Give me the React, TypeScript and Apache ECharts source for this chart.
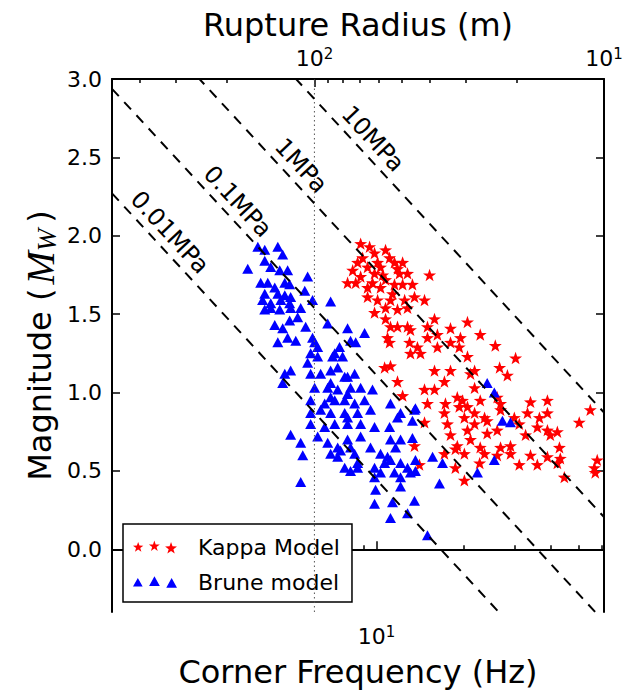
import React, { useEffect, useRef } from 'react';
import * as echarts from 'echarts';

// ---------- data ----------
const stressLevelsMPa = [0.01, 0.1, 1, 10];
const stressLabels = ['0.01MPa', '0.1MPa', '1MPa', '10MPa'];
const stressLabelFc = [1.76, 3.02, 5.0, 8.85];
const radiusConst = 610; // rupture radius (m) = radiusConst / fc
const fcMin = 1.22;
const fcMax = 61;
const mwMin = -0.4;
const mwMax = 3.0;
const mwTicks = [0, 0.5, 1, 1.5, 2, 2.5, 3];
const fcMajorTicks = [10];
const fcMinorTicks = [2, 3, 4, 5, 6, 7, 8, 9, 20, 30, 40, 50, 60];
const radiusMajorTicks = [100, 10];
const radiusMinorTicks = [500, 400, 300, 200, 90, 80, 70, 60, 50, 40, 30, 20];
const referenceRadius = 100;

const kappaModel: number[][] = [
  [8.81, 1.95], [9.46, 1.93], [10.74, 1.91], [8.6, 1.83], [9.84, 1.89], [11.53, 1.83], [12.3, 1.83],
  [9.31, 1.8], [10.32, 1.8], [11.81, 1.79], [7.94, 1.7], [8.81, 1.74], [9.84, 1.76], [10.74, 1.72],
  [12.0, 1.76], [12.79, 1.76], [15.24, 1.75], [8.47, 1.7], [9.31, 1.67], [10.32, 1.67], [11.53, 1.69],
  [13.3, 1.69], [9.31, 1.61], [10.08, 1.59], [11.17, 1.59], [12.5, 1.59], [13.52, 1.61], [14.64, 1.59],
  [9.84, 1.51], [10.74, 1.54], [11.81, 1.53], [12.79, 1.54], [10.74, 1.47], [11.17, 1.42], [11.81, 1.42],
  [12.79, 1.42], [15.85, 1.47], [10.91, 1.35], [11.09, 1.32], [13.09, 1.4], [14.99, 1.42], [18.0, 1.41],
  [20.6, 1.45], [13.0, 1.32], [13.84, 1.29], [14.99, 1.35], [16.22, 1.37], [19.48, 1.35], [22.8, 1.37],
  [25.7, 1.3], [13.09, 1.25], [14.18, 1.25], [16.22, 1.29], [18.0, 1.32], [19.3, 1.29], [20.6, 1.23],
  [10.66, 1.16], [11.17, 1.17], [15.85, 1.14], [18.0, 1.14], [21.1, 1.12], [21.8, 1.14], [26.6, 1.16],
  [28.3, 1.11], [30.2, 1.22], [11.81, 1.07], [14.64, 1.02], [15.85, 1.02], [17.15, 1.07], [21.8, 1.03],
  [26.8, 0.93], [12.3, 0.98], [14.99, 0.93], [17.29, 0.93], [19.0, 0.97], [19.8, 0.95], [20.6, 0.91],
  [22.8, 0.95], [26.1, 0.97], [34.0, 0.94], [38.9, 0.95], [54.7, 0.89], [17.15, 0.87], [19.3, 0.91],
  [21.8, 0.87], [23.6, 0.84], [26.8, 0.89], [29.9, 0.84], [33.2, 0.87], [36.5, 0.84], [38.9, 0.87],
  [50.1, 0.81], [14.64, 0.81], [17.57, 0.8], [20.1, 0.84], [21.8, 0.8], [24.1, 0.82], [31.1, 0.8],
  [35.9, 0.78], [38.9, 0.76], [42.1, 0.75], [18.0, 0.73], [20.6, 0.76], [24.1, 0.74], [26.1, 0.76],
  [32.7, 0.73], [39.8, 0.73], [13.52, 0.66], [19.0, 0.66], [21.1, 0.7], [22.8, 0.65], [26.8, 0.65],
  [29.0, 0.66], [42.8, 0.65], [17.15, 0.61], [18.71, 0.64], [20.1, 0.61], [23.6, 0.61], [26.1, 0.6],
  [29.0, 0.61], [34.0, 0.6], [38.9, 0.59], [43.1, 0.58], [14.06, 0.54], [18.71, 0.52], [22.7, 0.55],
  [31.1, 0.54], [35.9, 0.54], [42.1, 0.55], [44.5, 0.46], [56.5, 0.52], [57.8, 0.57], [56.9, 0.49],
  [20.1, 0.44], [8.27, 1.78], [8.95, 1.86], [11.09, 1.86], [10.08, 1.83], [9.68, 1.7], [11.35, 1.63],
  [10.5, 1.75], [12.3, 1.69],
];

const bruneModel: number[][] = [
  [3.59, 1.79], [3.89, 1.93], [4.11, 1.91], [4.56, 1.93], [4.74, 1.88], [4.11, 1.84], [4.31, 1.8],
  [4.63, 1.78], [4.93, 1.78], [3.98, 1.7], [4.21, 1.7], [4.45, 1.67], [4.82, 1.7], [5.01, 1.69],
  [4.11, 1.63], [4.56, 1.63], [4.82, 1.62], [5.05, 1.61], [4.04, 1.59], [4.31, 1.57], [4.67, 1.59],
  [5.01, 1.57], [4.11, 1.53], [4.31, 1.54], [4.63, 1.53], [5.05, 1.54], [5.47, 1.54], [5.78, 1.74],
  [5.65, 1.65], [6.01, 1.59], [6.94, 1.58], [4.45, 1.43], [4.74, 1.41], [5.01, 1.46], [5.34, 1.48],
  [4.56, 1.32], [4.93, 1.35], [5.26, 1.33], [5.69, 1.42], [6.01, 1.35], [6.11, 1.32], [6.26, 1.29],
  [6.78, 1.44], [7.94, 1.41], [4.82, 1.12], [5.05, 1.14], [4.74, 1.06], [5.92, 1.25], [6.26, 1.23],
  [5.78, 1.19], [7.17, 1.25], [7.45, 1.29], [7.63, 1.23], [8.13, 1.33], [5.92, 1.12], [6.41, 1.12],
  [6.94, 1.14], [7.34, 1.16], [7.76, 1.1], [8.4, 1.12], [6.11, 1.03], [6.94, 1.06], [7.34, 1.02],
  [8.13, 1.03], [5.92, 0.95], [6.62, 0.93], [6.94, 0.97], [7.76, 0.95], [8.4, 0.93], [5.92, 0.87],
  [6.41, 0.89], [6.94, 0.87], [7.76, 0.87], [5.92, 0.8], [6.62, 0.78], [7.17, 0.8], [7.94, 0.8],
  [5.05, 0.73], [5.47, 0.68], [5.56, 0.6], [6.26, 0.72], [6.78, 0.68], [7.34, 0.65], [8.13, 0.65],
  [6.94, 0.61], [7.34, 0.59], [7.76, 0.52], [8.13, 0.5], [8.6, 0.52], [5.47, 0.43],
  [9.09, 1.38], [8.47, 1.32], [7.05, 1.23], [7.94, 1.1], [6.78, 1.03], [7.94, 0.99], [8.81, 1.03],
  [9.68, 1.02], [7.17, 0.95], [9.09, 0.95], [11.17, 0.93], [7.94, 0.84], [8.6, 0.87], [9.53, 0.89],
  [12.1, 0.87], [13.52, 0.89], [8.81, 0.8], [9.84, 0.78], [11.09, 0.78], [11.81, 0.84], [13.3, 0.82],
  [7.94, 0.7], [8.81, 0.72], [9.53, 0.65], [11.17, 0.7], [12.1, 0.7], [13.3, 0.71], [7.51, 0.63],
  [8.4, 0.61], [10.32, 0.61], [10.91, 0.59], [11.63, 0.65], [8.6, 0.55], [9.84, 0.52], [10.66, 0.55],
  [11.17, 0.57], [12.1, 0.55], [12.79, 0.52], [13.62, 0.57], [13.62, 0.5], [9.84, 0.46], [10.32, 0.49],
  [11.53, 0.49], [12.1, 0.46], [13.09, 0.49], [9.92, 0.38], [12.1, 0.4], [9.84, 0.29], [11.35, 0.3],
  [13.52, 0.31], [11.17, 0.2], [12.79, 0.23], [14.99, 0.09], [15.61, 0.59], [16.49, 0.42], [16.89, 0.55],
  [22.3, 0.49], [25.5, 0.57], [24.1, 1.06], [25.5, 1.0], [27.2, 0.82], [29.0, 0.81], [13.62, 0.9],
];

// ---------- helpers ----------
// Mw of a constant stress-drop line: M0 = 16/7 * stress * r^3, r = radiusConst / fc
function stressLineMw(stressMPa: number, fc: number): number {
  const r = radiusConst / fc;
  const m0 = (16 / 7) * stressMPa * 1e6 * Math.pow(r, 3);
  return (2 / 3) * (Math.log10(m0) - 9.05);
}

function starPath(cx: number, cy: number, R: number, r: number): string {
  let d = '';
  for (let i = 0; i < 10; i++) {
    const a = -Math.PI / 2 + (i * Math.PI) / 5;
    const rad = i % 2 === 0 ? R : r;
    d += (i === 0 ? 'M' : 'L') + (cx + rad * Math.cos(a)).toFixed(2) + ',' + (cy + rad * Math.sin(a)).toFixed(2) + ' ';
  }
  return d + 'Z';
}
function triPath(cx: number, cy: number, w: number, h: number): string {
  return `M${cx - w / 2},${cy + h / 2} L${cx},${cy - h / 2} L${cx + w / 2},${cy + h / 2} Z`;
}

const STAR_SYMBOL = 'path://' + starPath(0, 0, 10, 4);
const STAR_LEGEND = 'path://' + starPath(5.5, 6.5, 5.2, 2.1) + ' ' + starPath(21, 5.5, 5.5, 2.2) + ' ' + starPath(37, 7.5, 6, 2.4);
const TRI_LEGEND = 'path://' + triPath(5.5, 8, 9, 8) + ' ' + triPath(21, 7, 10, 9) + ' ' + triPath(37, 8.5, 10, 9);

const FONT = 'DejaVu Sans';

export default function App() {
  const ref = useRef<HTMLDivElement>(null);
  useEffect(() => {
    if (!ref.current) return;
    const chart = echarts.init(ref.current, null, { renderer: 'svg' });

    const supRich = {
      b: { fontSize: 22, fontFamily: FONT, color: '#000', lineHeight: 24 },
      s: { fontSize: 15, fontFamily: FONT, color: '#000', lineHeight: 12, verticalAlign: 'top' },
    };
    const expLabel = (v: number) => `{b|10}{s|${Math.round(Math.log10(v))}}`;

    const baseX = {
      type: 'log',
      logBase: 10,
      min: fcMin,
      max: fcMax,
      splitLine: { show: false },
      minorTick: { show: false },
      nameMoveOverlap: false,
    };
    const tickLine = { color: '#000', width: 1.5 };

    const lineSeries = stressLevelsMPa.map((s) => ({
      type: 'line',
      name: 'stress' + s,
      xAxisIndex: 0,
      yAxisIndex: 0,
      data: [
        [fcMin, stressLineMw(s, fcMin)],
        [fcMax, stressLineMw(s, fcMax)],
      ],
      symbol: 'none',
      clip: true,
      z: 5,
      lineStyle: { color: '#000', width: 2, type: [10, 8] },
      silent: true,
    }));

    const option: any = {
      animation: false,
      backgroundColor: '#fff',
      grid: { left: 112, right: 25, top: 79, bottom: 79, containLabel: false, outerBoundsMode: 'none' },
      legend: {
        orient: 'vertical',
        left: 123,
        top: 524,
        data: [
          { name: 'Kappa Model', icon: STAR_LEGEND },
          { name: 'Brune model', icon: TRI_LEGEND },
        ],
        itemWidth: 44,
        itemHeight: 14,
        itemGap: 9,
        padding: [10, 12, 7, 10],
        borderColor: '#000',
        borderWidth: 1.5,
        backgroundColor: '#fff',
        textStyle: { fontSize: 22, fontFamily: FONT, color: '#000', lineHeight: 26, padding: [0, 0, 0, 16] },
        selectedMode: false,
      },
      xAxis: [
        {
          ...baseX,
          position: 'bottom',
          name: 'Corner Frequency (Hz)',
          nameLocation: 'middle',
          nameGap: 43,
          nameTextStyle: { fontSize: 32, fontFamily: FONT, color: '#000', lineHeight: 34 },
          axisLine: { show: true, lineStyle: { color: '#000', width: 2 } },
          axisTick: { show: true, inside: true, length: 8, customValues: fcMajorTicks, lineStyle: tickLine },
          axisLabel: { customValues: fcMajorTicks, margin: 12, formatter: expLabel, rich: supRich },
        },
        {
          ...baseX,
          position: 'bottom',
          axisLine: { show: false },
          axisTick: { show: true, inside: true, length: 4, customValues: fcMinorTicks, lineStyle: tickLine },
          axisLabel: { show: false },
        },
        {
          ...baseX,
          position: 'top',
          name: 'Rupture Radius (m)',
          nameLocation: 'middle',
          nameGap: 38,
          nameTextStyle: { fontSize: 32, fontFamily: FONT, color: '#000', lineHeight: 32 },
          axisLine: { show: true, lineStyle: { color: '#000', width: 2 } },
          axisTick: { show: true, inside: true, length: 8, customValues: radiusMajorTicks.map((r) => radiusConst / r), lineStyle: tickLine },
          axisLabel: {
            customValues: radiusMajorTicks.map((r) => radiusConst / r),
            margin: 9,
            formatter: (v: number) => expLabel(radiusConst / v),
            rich: supRich,
          },
        },
        {
          ...baseX,
          position: 'top',
          axisLine: { show: false },
          axisTick: { show: true, inside: true, length: 4, customValues: radiusMinorTicks.map((r) => radiusConst / r), lineStyle: tickLine },
          axisLabel: { show: false },
        },
      ],
      yAxis: [
        {
          type: 'value',
          min: mwMin,
          max: mwMax,
          position: 'left',
          name: 'Magnitude ({m|M}{w|W})',
          nameLocation: 'middle',
          nameGap: 52,
          nameMoveOverlap: false,
          nameTextStyle: {
            fontSize: 32,
            fontFamily: FONT,
            color: '#000',
            lineHeight: 40,
            rich: {
              m: { fontSize: 40, fontFamily: 'Liberation Serif', fontStyle: 'italic', color: '#000', lineHeight: 40, padding: [0, 0, 0, 4] },
              w: { fontSize: 27, fontFamily: 'Liberation Serif', fontStyle: 'italic', color: '#000', lineHeight: 24, verticalAlign: 'bottom', padding: [0, 6, 0, 0] },
            },
          },
          splitLine: { show: false },
          axisLine: { show: true, lineStyle: { color: '#000', width: 2 } },
          axisTick: { show: true, inside: true, length: 8, customValues: mwTicks, lineStyle: tickLine },
          axisLabel: {
            customValues: mwTicks,
            margin: 10,
            fontSize: 22,
            fontFamily: FONT,
            color: '#000',
            formatter: (v: number) => v.toFixed(1),
          },
        },
        {
          type: 'value',
          min: mwMin,
          max: mwMax,
          position: 'right',
          splitLine: { show: false },
          axisLine: { show: true, lineStyle: { color: '#000', width: 2 } },
          axisTick: { show: true, inside: true, length: 8, customValues: mwTicks, lineStyle: tickLine },
          axisLabel: { show: false },
        },
      ],
      series: [
        {
          type: 'scatter',
          name: 'Kappa Model',
          xAxisIndex: 0,
          yAxisIndex: 0,
          data: kappaModel,
          symbol: STAR_SYMBOL,
          symbolSize: 13,
          symbolKeepAspect: true,
          itemStyle: { color: '#ff0000', opacity: 1 },
          z: 2,
        },
        {
          type: 'scatter',
          name: 'Brune model',
          xAxisIndex: 0,
          yAxisIndex: 0,
          data: bruneModel,
          symbol: 'triangle',
          symbolSize: [11, 10],
          itemStyle: { color: '#0000ff', opacity: 1 },
          z: 3,
        },
        ...lineSeries,
        {
          type: 'line',
          name: 'reference radius',
          xAxisIndex: 0,
          yAxisIndex: 0,
          data: [
            [radiusConst / referenceRadius, mwMin],
            [radiusConst / referenceRadius, mwMax],
          ],
          symbol: 'none',
          z: 4,
          lineStyle: { color: '#555', width: 1, type: [1.5, 3] },
          silent: true,
        },
      ],
    };
    chart.setOption(option);

    // rotated stress-drop labels along their lines
    const a = chart.convertToPixel({ seriesIndex: 0 }, [fcMin, stressLineMw(1, fcMin)]) as number[];
    const b = chart.convertToPixel({ seriesIndex: 0 }, [fcMax, stressLineMw(1, fcMax)]) as number[];
    const theta = Math.atan2(b[1] - a[1], b[0] - a[0]);
    const off = 16;
    const elements = stressLevelsMPa.map((s, i) => {
      const p = chart.convertToPixel({ seriesIndex: 0 }, [stressLabelFc[i], stressLineMw(s, stressLabelFc[i])]) as number[];
      return {
        type: 'text',
        x: p[0] + off * Math.sin(theta),
        y: p[1] - off * Math.cos(theta),
        rotation: -theta,
        z: 20,
        style: {
          text: stressLabels[i],
          fontSize: 24,
          fontFamily: FONT,
          fill: '#000',
          align: 'center',
          verticalAlign: 'middle',
        },
      };
    });
    chart.setOption({ graphic: { elements } });

    return () => chart.dispose();
  }, []);
  return <div ref={ref} style={{ position: 'fixed', left: 0, top: 0, width: 629, height: 691, background: '#fff' }} />;
}
